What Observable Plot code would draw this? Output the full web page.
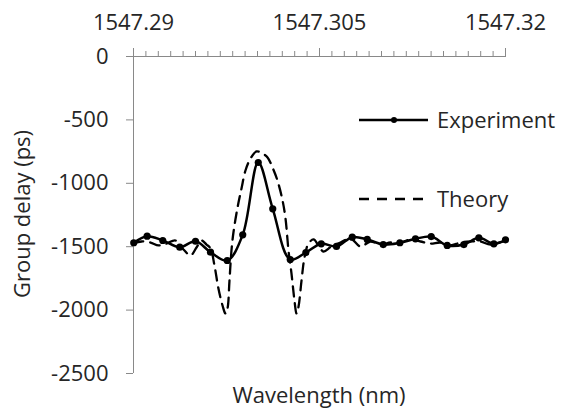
<!DOCTYPE html>
<html><head><meta charset="utf-8">
<script src="https://cdn.jsdelivr.net/npm/d3@7"></script>
<script src="https://cdn.jsdelivr.net/npm/@observablehq/plot@0.6"></script>
<style>
body{margin:0;background:#fff}
#chart{width:562px;height:411px;overflow:hidden}
</style>
</head><body><div id="chart"></div>
<script>
// Experiment (markers, smoothed line)
const expWavelength = [1547.29002,1547.29110,1547.29236,1547.29373,1547.29500,1547.29621,1547.29756,1547.29881,1547.30006,1547.30123,1547.30264,1547.30390,1547.30514,1547.30637,1547.30764,1547.30885,1547.31014,1547.31148,1547.31274,1547.31401,1547.31530,1547.31664,1547.31785,1547.31906,1547.32000];
const expDelay = [-1469,-1417,-1451,-1504,-1457,-1543,-1609,-1406,-836,-1201,-1601,-1546,-1477,-1498,-1425,-1443,-1483,-1469,-1438,-1420,-1490,-1483,-1430,-1477,-1446];
// Theory (dashed)
const theoryWavelength = [1547.29000,1547.29065,1547.29137,1547.29202,1547.29266,1547.29339,1547.29403,1547.29460,1547.29508,1547.29548,1547.29589,1547.29621,1547.29653,1547.29685,1547.29718,1547.29742,1547.29758,1547.29774,1547.29790,1547.29806,1547.29839,1547.29871,1547.29903,1547.29944,1547.29992,1547.30040,1547.30081,1547.30121,1547.30161,1547.30202,1547.30226,1547.30250,1547.30274,1547.30298,1547.30315,1547.30331,1547.30355,1547.30379,1547.30411,1547.30452,1547.30492,1547.30532,1547.30597,1547.30669,1547.30750,1547.30831,1547.30911,1547.30992,1547.31073,1547.31153,1547.31234,1547.31315,1547.31395,1547.31476,1547.31556,1547.31637,1547.31718,1547.31798,1547.31879,1547.32000];
const theoryDelay = [-1475,-1459,-1467,-1490,-1475,-1451,-1522,-1569,-1506,-1451,-1483,-1514,-1648,-1830,-1964,-2027,-1987,-1767,-1530,-1388,-1191,-1041,-899,-804,-749,-765,-796,-875,-978,-1136,-1278,-1530,-1711,-1924,-2027,-1972,-1767,-1585,-1475,-1443,-1490,-1538,-1498,-1467,-1435,-1498,-1459,-1483,-1467,-1467,-1443,-1459,-1475,-1467,-1490,-1467,-1459,-1459,-1483,-1451];
// Axes
const xMajorTicks = [1547.29, 1547.305, 1547.32];
const xMinorTicks = d3.range(0, 31).map(i => +(1547.29 + i * 0.001).toFixed(3));
const yTicks = [0, -500, -1000, -1500, -2000, -2500];
const seriesNames = ["Experiment", "Theory"];

const exp = expWavelength.map((w, i) => ({w, d: expDelay[i]}));
const th = theoryWavelength.map((w, i) => ({w, d: theoryDelay[i]}));

const axisColor = "#898989";
const textColor = "#262626";
const font = "'Open Sans', sans-serif";

const plot = Plot.plot({
  width: 562, height: 411,
  marginLeft: 133, marginRight: 57, marginTop: 56, marginBottom: 38,
  style: {fontFamily: font, fontSize: "22px", color: textColor, background: "#fff", overflow: "visible"},
  x: {domain: [1547.29, 1547.32]},
  y: {domain: [-2500, 0]},
  marks: [
    Plot.ruleX([1547.29], {y1: -2500, y2: 0, stroke: axisColor, strokeWidth: 1}),
    Plot.ruleY([0], {x1: 1547.29, x2: 1547.32, stroke: axisColor, strokeWidth: 1}),
    Plot.axisY(yTicks, {anchor: "left", tickSize: 7, tickPadding: 18, stroke: axisColor, fill: textColor, tickFormat: d => String(d), label: null}),
    Plot.axisX(xMinorTicks, {anchor: "top", tickSize: 6, stroke: axisColor, tickFormat: () => "", label: null}),
    Plot.axisX(xMajorTicks, {anchor: "top", tickSize: 9, tickPadding: 18, stroke: axisColor, fill: textColor, tickFormat: d => String(d), label: null}),
    Plot.line(th, {x: "w", y: "d", stroke: "black", strokeWidth: 2.3, strokeDasharray: "10,7", curve: "catmull-rom"}),
    Plot.line(exp, {x: "w", y: "d", stroke: "black", strokeWidth: 2.5, curve: "catmull-rom"}),
    Plot.dot(exp, {x: "w", y: "d", r: 3.6, fill: "black", stroke: "none"})
  ]
});
document.getElementById("chart").appendChild(plot);

const svg = d3.select(plot);
// axis titles
svg.append("text").attr("x", 319).attr("y", 403).attr("text-anchor", "middle")
  .attr("fill", textColor).style("font-family", font).style("font-size", "22px").text("Wavelength (nm)");
svg.append("text").attr("transform", "translate(30,214) rotate(-90)").attr("text-anchor", "middle")
  .attr("fill", textColor).style("font-family", font).style("font-size", "22px").text("Group delay (ps)");
// legend
const lg = svg.append("g");
lg.append("line").attr("x1", 359).attr("x2", 428).attr("y1", 120).attr("y2", 120).attr("stroke", "black").attr("stroke-width", 2.5);
lg.append("circle").attr("cx", 394).attr("cy", 120).attr("r", 3).attr("fill", "black");
lg.append("text").attr("x", 437).attr("y", 120).attr("dy", "0.35em").attr("text-anchor", "start").attr("fill", textColor)
  .style("font-family", font).style("font-size", "22px").text(seriesNames[0]);
lg.append("line").attr("x1", 359).attr("x2", 423).attr("y1", 199).attr("y2", 199).attr("stroke", "black").attr("stroke-width", 2.3).attr("stroke-dasharray", "10,8");
lg.append("text").attr("x", 437).attr("y", 199).attr("dy", "0.35em").attr("text-anchor", "start").attr("fill", textColor)
  .style("font-family", font).style("font-size", "22px").text(seriesNames[1]);
</script>
</body></html>
